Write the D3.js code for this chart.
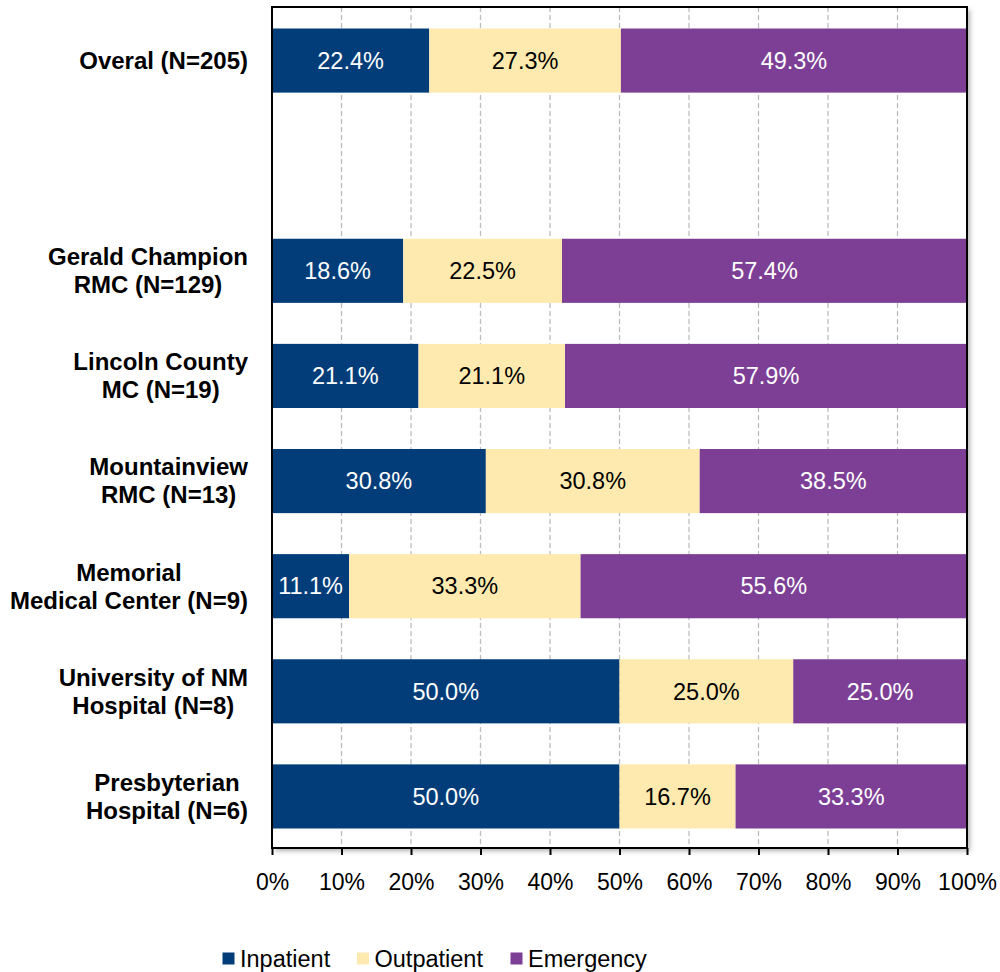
<!DOCTYPE html>
<html><head><meta charset="utf-8">
<script src="https://cdn.jsdelivr.net/npm/d3@7"></script>
<style>body{margin:0;background:#fff}svg{display:block}text{font-family:"Liberation Sans",Arial,sans-serif}</style>
</head><body><svg id="c" width="1000" height="972"></svg>
<script>
const categories = [
  ["Overal (N=205)"],
  [],
  ["Gerald Champion", "RMC (N=129)"],
  ["Lincoln County", "MC (N=19)"],
  ["Mountainview", "RMC (N=13)"],
  ["Memorial", "Medical Center (N=9)"],
  ["University of NM", "Hospital (N=8)"],
  ["Presbyterian", "Hospital (N=6)"]
];
const seriesNames = ["Inpatient", "Outpatient", "Emergency"];
const inpatient  = [22.4, null, 18.6, 21.1, 30.8, 11.1, 50.0, 50.0];
const outpatient = [27.3, null, 22.5, 21.1, 30.8, 33.3, 25.0, 16.7];
const emergency  = [49.3, null, 57.4, 57.9, 38.5, 55.6, 25.0, 33.3];
const tickValues = [0,0.1,0.2,0.3,0.4,0.5,0.6,0.7,0.8,0.9,1];
const colors = ["#023d7a", "#feeaae", "#7d3f95"];
const labelColors = ["#ffffff", "#000000", "#ffffff"];

const svg = d3.select("#c");
const M = {left: 272, right: 967, top: 7, bottom: 848};

const rows = categories.map((c, i) => ({
  id: "r" + i, lines: c,
  Inpatient: inpatient[i], Outpatient: outpatient[i], Emergency: emergency[i]
}));

const x = d3.scaleLinear().domain([0, 1]).range([M.left, M.right]);
const y = d3.scaleBand().domain(rows.map(r => r.id)).range([M.top + 1, M.bottom + 1]).paddingInner(0.39).paddingOuter(0.195);

const defs = svg.append("defs");
const f = defs.append("filter").attr("id", "sh").attr("x", "-5%").attr("y", "-5%").attr("width", "115%").attr("height", "115%");
f.append("feDropShadow").attr("dx", 3).attr("dy", 3).attr("stdDeviation", 2.5).attr("flood-color", "#000").attr("flood-opacity", 0.3);

svg.append("rect").attr("x", M.left).attr("y", M.top).attr("width", M.right - M.left).attr("height", M.bottom - M.top)
  .attr("fill", "#fff").attr("filter", "url(#sh)");

svg.append("g").selectAll("line").data(tickValues.slice(1, -1)).join("line")
  .attr("x1", d => x(d)).attr("x2", d => x(d)).attr("y1", M.top).attr("y2", M.bottom)
  .attr("stroke", "#bdbdbd").attr("stroke-width", 1.3).attr("stroke-dasharray", "5,3");

const present = rows.filter(r => r.Inpatient != null);
const stack = d3.stack().keys(seriesNames).offset(d3.stackOffsetExpand);
const series = stack(present);

const g = svg.append("g");
series.forEach((s, si) => {
  g.append("g").selectAll("rect").data(s).join("rect")
    .attr("x", d => x(d[0])).attr("width", d => x(d[1]) - x(d[0]))
    .attr("y", d => y(d.data.id)).attr("height", y.bandwidth())
    .attr("fill", colors[si]);
  g.append("g").selectAll("text").data(s).join("text")
    .attr("x", d => (x(d[0]) + x(d[1])) / 2)
    .attr("y", d => y(d.data.id) + y.bandwidth() / 2)
    .attr("dy", "0.35em").attr("text-anchor", "middle")
    .attr("font-size", 23.5).attr("fill", labelColors[si])
    .text(d => d.data[seriesNames[si]].toFixed(1) + "%");
});

svg.append("rect").attr("x", M.left).attr("y", M.top).attr("width", M.right - M.left).attr("height", M.bottom - M.top)
  .attr("fill", "none").attr("stroke", "#000").attr("stroke-width", 2);

const ax = svg.append("g").attr("transform", `translate(0,${M.bottom})`)
  .call(d3.axisBottom(x).tickValues(tickValues).tickFormat(d3.format(".0%")).tickSize(7).tickPadding(19));
ax.select(".domain").remove();
ax.selectAll("line").attr("stroke", "#000").attr("stroke-width", 2);
ax.selectAll("text").attr("font-size", 23).attr("fill", "#000").attr("font-family", "Liberation Sans, Arial, sans-serif");

const lab = svg.append("g");
rows.forEach(r => {
  if (!r.lines.length) return;
  const t = lab.append("text").attr("font-size", 24).attr("font-weight", "bold").attr("text-anchor", "middle");
  const lh = 28;
  const cy = y(r.id) + y.bandwidth() / 2;
  const n = r.lines.length;
  const spans = r.lines.map((ln, k) => t.append("tspan").attr("y", cy + (k - (n - 1) / 2) * lh).attr("dy", "0.35em").text(ln));
  const w = d3.max(spans, s => s.node().getComputedTextLength());
  spans.forEach(s => s.attr("x", 248 - w / 2));
});

const legX = [222.5, 357, 510.5];
const lg = svg.append("g");
seriesNames.forEach((n, i) => {
  lg.append("rect").attr("x", legX[i]).attr("y", 952.5).attr("width", 12).attr("height", 12).attr("fill", colors[i]);
  lg.append("text").attr("x", legX[i] + 17.5).attr("y", 958.5).attr("dy", "0.35em").attr("font-size", 23.5).text(n);
});
</script></body></html>
